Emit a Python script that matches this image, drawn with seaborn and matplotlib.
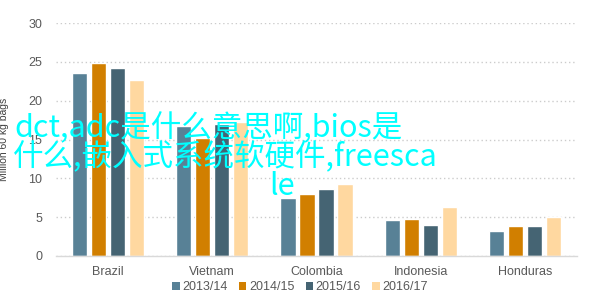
import matplotlib
matplotlib.use("Agg")
import matplotlib.pyplot as plt
import seaborn as sns
import pandas as pd
from matplotlib.patches import Patch

countries = ["Brazil", "Vietnam", "Colombia", "Indonesia", "Honduras"]
seasons = ["2013/14", "2014/15", "2015/16", "2016/17"]
v_2013 = [23.6, 16.8, 7.5, 4.6, 3.2]
v_2014 = [24.9, 15.2, 8.0, 4.7, 3.8]
v_2015 = [24.2, 17.0, 8.6, 4.0, 3.8]
v_2016 = [22.7, 17.2, 9.3, 6.3, 5.0]
y_ticks = [0, 5, 10, 15, 20, 25, 30]
y_label = "Million 60 kg bags"
overlay_lines = ["dct,adc是什么意思啊,bios是", "什么,嵌入式系统软硬件,freesca", "le"]

colors = ["#588196", "#d17f00", "#456473", "#ffd8a0"]

rows = []
for s, vals in zip(seasons, [v_2013, v_2014, v_2015, v_2016]):
    for c, v in zip(countries, vals):
        rows.append({"country": c, "season": s, "value": v})
df = pd.DataFrame(rows)

sns.set_theme(style="white")
plt.rcParams["font.family"] = ["Liberation Sans", "DejaVu Sans"]

fig = plt.figure(figsize=(5.94, 3.04), dpi=100)
ax = fig.add_axes([56/594, 1-256/304, (577-56)/594, (256-23)/304])

sns.barplot(data=df, x="country", y="value", hue="season", order=countries,
            hue_order=seasons, palette=colors, width=0.73, gap=0.2,
            saturation=1, ax=ax, legend=False, errorbar=None)

ax.set_xlim(-0.5, 4.5)
ax.set_ylim(0, 30)
ax.set_yticks(y_ticks)
ax.set_xlabel("")
ax.set_ylabel(y_label, fontsize=7.5, color="#404040", labelpad=14)
ax.tick_params(axis="both", length=0, labelsize=9, labelcolor="#595959")
ax.tick_params(axis="y", pad=10)
ax.tick_params(axis="x", pad=7)
ax.yaxis.grid(True, linestyle=(0, (1, 2)), color="#cccccc", linewidth=1)
ax.set_axisbelow(True)
for sp in ["left", "right", "top"]:
    ax.spines[sp].set_visible(False)
ax.spines["bottom"].set_color("#d9d9d9")
ax.spines["bottom"].set_linewidth(1)

handles = [Patch(facecolor=c, edgecolor="none") for c in colors]
fig.legend(handles, seasons, loc="center", bbox_to_anchor=(0.505, 1-287/304),
           ncol=4, frameon=False, fontsize=9, handlelength=0.6, handleheight=0.6,
           handletextpad=0.2, columnspacing=0.9, labelcolor="#595959")

cjk = ["Noto Sans CJK SC", "DejaVu Sans"]
text_pos = [(14, 137), (13, 166), (269, 195)]
for line, (px, py) in zip(overlay_lines, text_pos):
    fig.text(px/594, 1-py/304, line, fontsize=22, color="#00ffff",
             family=cjk, weight="medium", va="baseline", ha="left")

fig.savefig("out.png", dpi=100)
